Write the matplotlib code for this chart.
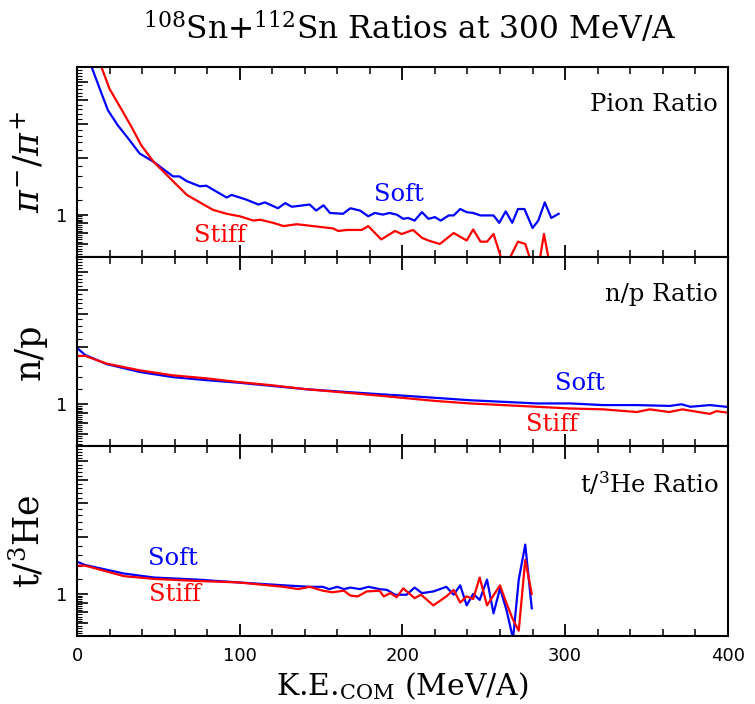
import numpy as np
import matplotlib
matplotlib.use("Agg")
import matplotlib.pyplot as plt
from matplotlib.ticker import FixedLocator, FixedFormatter, MultipleLocator


# pion ratio
soft_pi_x = [5, 9, 14, 19, 25, 31.5, 38.5, 47, 59, 63, 67.5, 75.5, 79.5, 92, 95,
             104, 111.5, 115.5, 123.5, 128, 132, 143, 147, 151.5, 155.5, 163.5, 168,
             174, 179, 183, 188, 192, 196.5, 200.5, 203.5, 207.5, 212, 216, 220,
             223.5, 228.5, 231.5, 235.5, 239.5, 243.5, 248, 256, 259.5, 263.5,
             267.5, 271, 275, 280, 283.5, 287.5, 291.5, 296]
soft_pi_y = [8.5, 6.0, 4.6, 3.55, 2.96, 2.52, 2.10, 1.90, 1.59, 1.59, 1.50, 1.41,
             1.42, 1.23, 1.27, 1.20, 1.13, 1.16, 1.08, 1.15, 1.10, 1.13, 1.05, 1.12,
             1.02, 1.01, 1.08, 1.05, 0.98, 1.02, 1.00, 1.02, 1.00, 0.95, 0.96, 0.93,
             1.03, 0.95, 0.97, 0.93, 0.99, 0.99, 1.07, 1.03, 1.02, 0.99, 0.99, 0.905,
             1.04, 0.905, 1.07, 1.07, 0.85, 0.93, 1.16, 0.96, 1.01]
stiff_pi_x = [10, 15, 20, 26.5, 33.5, 39.5, 47, 53, 59, 67.5, 75.5, 83.5, 92, 100,
              108.5, 112.5, 120.5, 127, 135, 145, 157.5, 160.5, 166, 175, 179, 187,
              195.5, 199.5, 206.5, 212, 216, 223, 231.5, 239.5, 243.5, 248, 252, 256,
              261, 266, 271, 275.5, 279.5, 283.5, 287, 291]
stiff_pi_y = [8.0, 6.0, 4.6, 3.69, 2.90, 2.32, 1.90, 1.69, 1.50, 1.27, 1.16, 1.06,
              1.01, 0.98, 0.93, 0.94, 0.905, 0.87, 0.89, 0.87, 0.845, 0.82, 0.83, 0.83,
              0.87, 0.74, 0.82, 0.79, 0.83, 0.755, 0.73, 0.70, 0.80, 0.73, 0.835, 0.72,
              0.72, 0.79, 0.58, 0.59, 0.72, 0.70, 0.55, 0.52, 0.79, 0.52]

# n/p ratio
soft_np_x = [0, 5, 18, 38.5, 59, 79.5, 99, 119.5, 141, 166, 186, 200.5, 221, 241.5,
             262, 282.5, 303, 323.5, 344, 364.5, 371.5, 377, 389, 399]
soft_np_y = [1.98, 1.82, 1.63, 1.48, 1.39, 1.34, 1.30, 1.25, 1.20, 1.16, 1.13, 1.11,
             1.08, 1.05, 1.03, 1.01, 1.01, 0.99, 0.99, 0.98, 1.00, 0.97, 0.99, 0.97]
stiff_np_x = [0, 5, 18, 38.5, 59, 79.5, 99, 119.5, 141, 166, 186, 200.5, 221, 241.5,
              262, 282.5, 303, 323.5, 344, 352, 364, 372, 389, 393, 399]
stiff_np_y = [1.80, 1.80, 1.64, 1.51, 1.42, 1.37, 1.31, 1.26, 1.20, 1.15, 1.11, 1.08,
              1.04, 1.01, 0.99, 0.97, 0.95, 0.94, 0.91, 0.94, 0.91, 0.94, 0.89, 0.92,
              0.905]

# t/3He ratio
soft_t_x = [0, 5, 29, 47.5, 74, 99, 127, 143, 151, 155, 160, 164, 168, 174, 179, 186,
            190.5, 195.5, 202.5, 207.5, 212, 219, 227, 231.5, 235.5, 239.5, 243.5,
            247.5, 252, 256, 260, 264, 268, 271.5, 275.5, 279.5]
soft_t_y = [1.48, 1.42, 1.28, 1.22, 1.19, 1.15, 1.11, 1.09, 1.09, 1.06, 1.09, 1.06,
            1.08, 1.06, 1.09, 1.06, 1.05, 0.99, 0.99, 1.08, 1.01, 1.03, 1.09, 0.99,
            1.11, 0.87, 1.00, 0.93, 1.19, 0.79, 1.07, 0.82, 0.58, 1.19, 1.82, 0.84]
stiff_t_x = [0, 5, 29, 47.5, 74, 99, 127, 136, 143, 151, 157, 164, 168, 172.5, 178,
             186, 188.5, 192.5, 196.5, 200.5, 207.5, 211.5, 219, 227, 231.5, 235.5,
             239.5, 243.5, 247.5, 252, 260, 264, 268, 271.5, 275.5, 279.5]
stiff_t_y = [1.41, 1.41, 1.24, 1.20, 1.17, 1.15, 1.09, 1.06, 1.09, 1.04, 1.02, 1.04,
             0.98, 0.97, 1.03, 1.04, 0.97, 1.01, 0.96, 1.07, 0.95, 0.99, 0.87, 0.97,
             1.05, 0.90, 0.97, 0.94, 1.22, 0.87, 1.11, 0.89, 0.73, 0.64, 1.51, 1.00]

panel_titles = ["Pion Ratio", "n/p Ratio", r"t/$^{3}$He Ratio"]
y_labels = [r"$\pi^{-}/\pi^{+}$", "n/p", r"t/$^{3}$He"]
# (x, y) positions of the Soft / Stiff labels in data coords
soft_pos = [(198, 1.27), (309, 1.28), (59, 1.53)]
stiff_pos = [(88, 0.78), (292, 0.78), (60, 0.99)]

plt.rcParams["font.family"] = "DejaVu Serif"
plt.rcParams["mathtext.fontset"] = "dejavuserif"

fig, axes = plt.subplots(3, 1, sharex=True, figsize=(7.55, 7.04), dpi=100)
fig.subplots_adjust(left=0.102, right=0.964, bottom=0.0966, top=0.9048, hspace=0)

series = [(soft_pi_x, soft_pi_y, stiff_pi_x, stiff_pi_y),
          (soft_np_x, soft_np_y, stiff_np_x, stiff_np_y),
          (soft_t_x, soft_t_y, stiff_t_x, stiff_t_y)]

major_y = [0.6, 0.7, 0.8, 0.9, 1, 2, 3, 4, 5, 6]
minor_y = list(np.arange(0.6, 1.0, 0.02)) + list(np.arange(1.0, 6.0, 0.2))

for i, ax in enumerate(axes):
    sx, sy, tx, ty = series[i]
    ax.plot(sx, sy, color="#0000ff", lw=1.6)
    ax.plot(tx, ty, color="#ff0000", lw=1.6)
    ax.set_yscale("log")
    ax.set_ylim(0.6, 6)
    ax.set_xlim(0, 400)

    ax.yaxis.set_major_locator(FixedLocator(major_y))
    ax.yaxis.set_major_formatter(FixedFormatter(["" if v != 1 else "1" for v in major_y]))
    ax.yaxis.set_minor_locator(FixedLocator(minor_y))
    ax.yaxis.set_minor_formatter(FixedFormatter([]))
    ax.xaxis.set_major_locator(MultipleLocator(100))
    ax.xaxis.set_minor_locator(MultipleLocator(20))

    ax.tick_params(axis="x", which="both", direction="in", top=True, bottom=True)
    ax.tick_params(axis="y", which="both", direction="in", left=True, right=False)
    ax.tick_params(axis="x", which="major", length=9, width=1.3, pad=8)
    ax.tick_params(axis="x", which="minor", length=5, width=1.1)
    ax.tick_params(axis="y", which="major", length=8, width=1.2, pad=7)
    ax.tick_params(axis="y", which="minor", length=3.5, width=0.8)
    for lab in ax.get_xticklabels() + ax.get_yticklabels():
        lab.set_fontfamily("DejaVu Sans")
        lab.set_fontsize(13)
    for sp in ax.spines.values():
        sp.set_linewidth(1.5)

    ax.set_ylabel(y_labels[i], fontsize=25)
    ax.yaxis.set_label_coords(-0.047, 0.5)
    ax.text(0.985, 0.8, panel_titles[i], transform=ax.transAxes,
            ha="right", va="center", fontsize=17.5)
    ax.text(soft_pos[i][0], soft_pos[i][1], "Soft", color="#0000ff",
            ha="center", va="center", fontsize=17.5)
    ax.text(stiff_pos[i][0], stiff_pos[i][1], "Stiff", color="#ff0000",
            ha="center", va="center", fontsize=17.5)

axes[2].set_xlabel(r"K.E.$_{\mathrm{COM}}$ (MeV/A)", fontsize=21.5, labelpad=4)
fig.suptitle(r"$^{108}$Sn+$^{112}$Sn Ratios at 300 MeV/A", x=0.543, y=0.985,
             fontsize=22.5)

fig.savefig("out.png", dpi=100)
